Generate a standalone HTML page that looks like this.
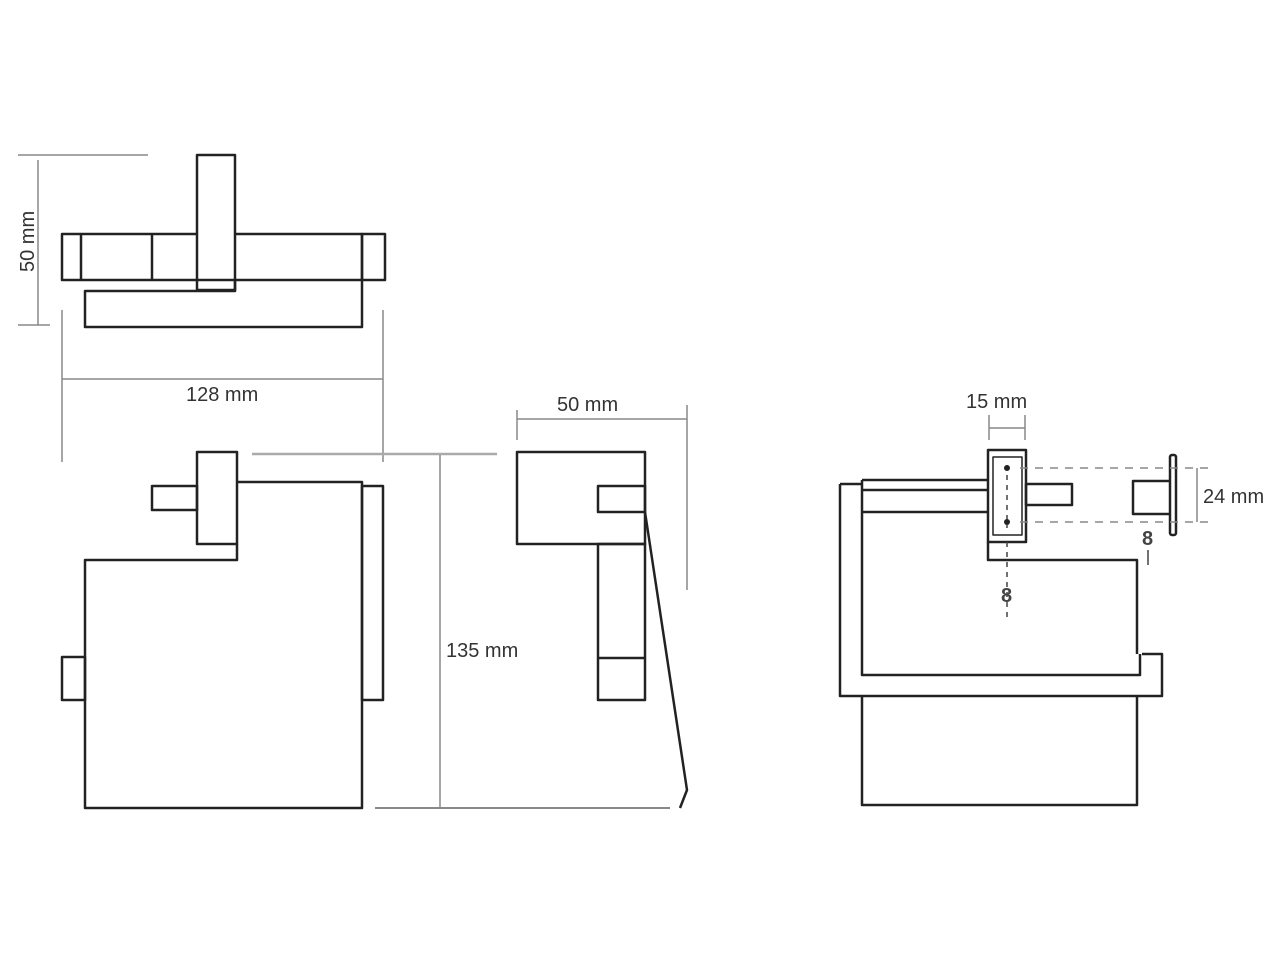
<!DOCTYPE html>
<html><head><meta charset="utf-8"><style>
html,body{margin:0;padding:0;background:#fff;width:1280px;height:960px;overflow:hidden}
svg{display:block}
text{font-family:"Liberation Sans",sans-serif;fill:#333;font-size:20px}
</style></head><body>
<svg width="1280" height="960" viewBox="0 0 1280 960" xmlns="http://www.w3.org/2000/svg">
<g fill="none" stroke="#222" stroke-width="2.5" stroke-linejoin="round">
<!-- TOP VIEW -->
<rect x="197" y="155" width="38" height="135"/>
<path d="M197 234 H62 V280 H235"/>
<path d="M235 234 H362 V280 H235"/>
<rect x="362" y="234" width="23" height="46"/>
<line x1="81" y1="234" x2="81" y2="280"/>
<line x1="152" y1="234" x2="152" y2="280"/>
<path d="M235 280 V291 H85 V327 H362 V280"/>
<!-- FRONT VIEW -->
<rect x="197" y="452" width="40" height="92"/>
<rect x="152" y="486" width="45" height="24"/>
<path d="M237 482 H362 V808 H85 V560 H237 V544"/>
<rect x="362" y="486" width="21" height="214"/>
<rect x="62" y="657" width="23" height="43"/>
<!-- SIDE VIEW -->
<rect x="517" y="452" width="128" height="92"/>
<rect x="598" y="486" width="47" height="26"/>
<rect x="598" y="544" width="47" height="156"/>
<line x1="598" y1="658" x2="645" y2="658"/>
<path d="M645 512 L687 790 L680 808"/>
<!-- RIGHT VIEW -->
<path d="M862 480 H988 M862 490 H988 M862 512 H988"/>
<path d="M840 484 V696 H1162 V654 H1142"/>
<path d="M840 484 H862"/>
<path d="M862 480 V675 H1140 V654"/>
<rect x="988" y="450" width="38" height="92"/>
<rect x="993" y="457" width="29" height="78" stroke-width="1.5"/>
<rect x="1026" y="484" width="46" height="21"/>
<path d="M988 542 V560 H1137 V654"/>
<path d="M862 696 V805 H1137 V696"/>
<rect x="1170" y="455" width="6" height="80" rx="2"/>
<path d="M1170 481 H1133 V514 H1170"/>
</g>
<g fill="none" stroke="#888" stroke-width="1.5">
<!-- top view dims -->
<line x1="18" y1="155" x2="148" y2="155"/>
<line x1="38" y1="160" x2="38" y2="325"/>
<line x1="18" y1="325" x2="50" y2="325"/>
<line x1="62" y1="310" x2="62" y2="462"/>
<line x1="383" y1="310" x2="383" y2="462"/>
<line x1="62" y1="379" x2="383" y2="379"/>
<!-- 135 -->
<line x1="252" y1="454" x2="497" y2="454" stroke-width="2.5" stroke="#aaa"/>
<line x1="440" y1="455" x2="440" y2="808"/>
<line x1="375" y1="808" x2="670" y2="808" stroke-width="2"/>
<!-- 50 side -->
<line x1="517" y1="410" x2="517" y2="440"/>
<line x1="687" y1="405" x2="687" y2="590"/>
<line x1="517" y1="419" x2="687" y2="419"/>
<!-- 15 -->
<line x1="989" y1="415" x2="989" y2="440"/>
<line x1="1025" y1="415" x2="1025" y2="440"/>
<line x1="989" y1="428" x2="1025" y2="428"/>
<!-- 24 -->
<line x1="1197" y1="468" x2="1197" y2="522"/>
<line x1="1020" y1="468" x2="1212" y2="468" stroke-dasharray="8 7"/>
<line x1="1020" y1="522" x2="1212" y2="522" stroke-dasharray="8 7"/>
<line x1="1007" y1="465" x2="1007" y2="528" stroke-dasharray="5 5" stroke="#444"/>
<line x1="1007" y1="542" x2="1007" y2="620" stroke-dasharray="5 5" stroke="#444"/>
<line x1="1148" y1="550" x2="1148" y2="565" stroke="#444"/>
</g>
<g fill="#222">
<circle cx="1007" cy="468" r="3"/><circle cx="1007" cy="522" r="3"/>
<text x="1001" y="602" font-size="14" style="fill:#444;font-weight:bold">8</text>
<text x="1142" y="545" font-size="14" style="fill:#444;font-weight:bold">8</text>
</g>
<text x="186" y="401">128 mm</text>
<text transform="translate(34,272) rotate(-90)">50 mm</text>
<text x="446" y="657">135 mm</text>
<text x="557" y="411">50 mm</text>
<text x="966" y="408">15 mm</text>
<text x="1203" y="503">24 mm</text>
</svg>
</body></html>
